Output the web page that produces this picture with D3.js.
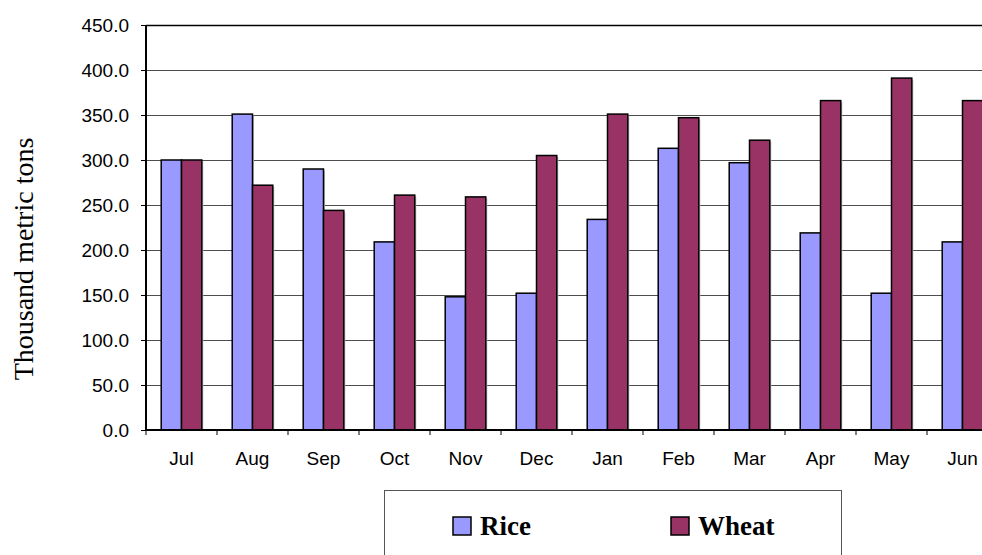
<!DOCTYPE html>
<html lang="en">
<head>
    <meta charset="utf-8">
    <title>Rice and Wheat</title>
    <style type="text/css">
        body { margin: 0; background: #fff; }
        .chart .tick text { font-family: "Liberation Sans", Arial, sans-serif; font-size: 19px; fill: #000; }
        .chart .grid line { stroke: #4d4d4d; stroke-width: 1; }
        .chart .axis path, .chart .axis line { stroke: #000; }
        .chart .bar { stroke: #000; stroke-width: 1.5; }
        .chart .ytitle { font-family: "Liberation Serif", "Times New Roman", serif; font-size: 28px; fill: #000; }
        .chart .legend text { font-family: "Liberation Serif", "Times New Roman", serif; font-size: 27px; font-weight: bold; fill: #000; }
    </style>
</head>
<body>
    <svg class="chart" width="982" height="555"></svg>

    <script src="https://d3js.org/d3.v7.min.js"></script>
    <script>
        // data
        var months = ['Jul', 'Aug', 'Sep', 'Oct', 'Nov', 'Dec', 'Jan', 'Feb', 'Mar', 'Apr', 'May', 'Jun'];
        var rice  = [300, 351, 290, 209, 148, 152, 234, 313, 297, 219, 152, 209];
        var wheat = [300, 272, 244, 261, 259, 305, 351, 347, 322, 366, 391, 366];
        var seriesNames = ['Rice', 'Wheat'];
        var seriesColors = ['#9999ff', '#993366'];
        var yTicks = [0, 50, 100, 150, 200, 250, 300, 350, 400, 450];

        var svg = d3.select('.chart'),
            plot = {left: 146, top: 25, right: 998, bottom: 430};

        var x = d3.scaleBand()
            .domain(months)
            .range([plot.left, plot.right])
            .paddingInner(0)
            .paddingOuter(0);

        // two bars inside each month, 150% gap
        var xs = d3.scaleBand()
            .domain(seriesNames)
            .range([0, x.bandwidth()])
            .paddingInner(0)
            .paddingOuter(0.75);

        var y = d3.scaleLinear()
            .domain([0, 450])
            .range([plot.bottom, plot.top]);

        // gridlines
        svg.append('g')
            .attr('class', 'grid')
            .selectAll('line')
            .data(yTicks.slice(1))
            .enter()
            .append('line')
            .attr('x1', plot.left)
            .attr('x2', plot.right)
            .attr('y1', function(d) { return Math.round(y(d)) + 0.5; })
            .attr('y2', function(d) { return Math.round(y(d)) + 0.5; })
            .style('stroke', function(d) { return d === 450 ? '#000' : null; })
            .style('stroke-width', function(d) { return d === 450 ? 1.5 : null; });

        // bars
        var table = months.map(function(m, i) {
            return {month: m, values: [rice[i], wheat[i]]};
        });

        var groups = svg.append('g')
            .selectAll('g')
            .data(table)
            .enter()
            .append('g')
            .attr('transform', function(d) { return 'translate(' + x(d.month) + ',0)'; });

        function cells(d) {
            return d.values.map(function(v, j) { return {name: seriesNames[j], value: v, j: j}; });
        }

        groups.selectAll('rect.shadow')
            .data(cells)
            .enter()
            .append('rect')
            .attr('class', 'shadow')
            .attr('x', function(d) { return xs(d.name) + 1.5; })
            .attr('y', function(d) { return y(d.value) + 1.5; })
            .attr('width', xs.bandwidth())
            .attr('height', function(d) { return plot.bottom - y(d.value) - 1.5; })
            .attr('fill', '#bbb');

        groups.selectAll('rect.bar')
            .data(cells)
            .enter()
            .append('rect')
            .attr('class', 'bar')
            .attr('x', function(d) { return xs(d.name); })
            .attr('y', function(d) { return y(d.value); })
            .attr('width', xs.bandwidth())
            .attr('height', function(d) { return plot.bottom - y(d.value); })
            .attr('fill', function(d) { return seriesColors[d.j]; });

        // y axis
        var yAxis = svg.append('g')
            .attr('class', 'axis')
            .attr('transform', 'translate(' + plot.left + ',0)')
            .call(d3.axisLeft(y).tickValues(yTicks).tickSize(5).tickPadding(12).tickFormat(d3.format('.1f')));
        yAxis.select('.domain').attr('d', 'M0,' + plot.top + 'V' + plot.bottom).style('stroke-width', 2);

        // x axis, ticks between months
        var xAxis = svg.append('g')
            .attr('class', 'axis')
            .attr('transform', 'translate(0,' + plot.bottom + ')')
            .call(d3.axisBottom(x).tickSize(0).tickPadding(22));
        xAxis.select('.domain').attr('d', 'M' + plot.left + ',0H' + plot.right).style('stroke-width', 2);
        xAxis.selectAll('.sep')
            .data(months)
            .enter()
            .append('line')
            .attr('class', 'sep')
            .attr('x1', function(d) { return x(d); })
            .attr('x2', function(d) { return x(d); })
            .attr('y1', 0)
            .attr('y2', 5);

        // y title
        svg.append('text')
            .attr('class', 'ytitle')
            .attr('transform', 'translate(33,259) rotate(-90)')
            .attr('text-anchor', 'middle')
            .text('Thousand metric tons');

        // legend
        var legend = svg.append('g').attr('class', 'legend');
        legend.append('rect')
            .attr('x', 384.5)
            .attr('y', 490.5)
            .attr('width', 457)
            .attr('height', 80)
            .attr('fill', '#fff')
            .attr('stroke', '#555')
            .attr('stroke-width', 1);

        var items = legend.selectAll('.item')
            .data(seriesNames)
            .enter()
            .append('g')
            .attr('class', 'item')
            .attr('transform', function(d, i) { return 'translate(' + [453, 671][i] + ',517)'; });

        items.append('rect')
            .attr('width', 18)
            .attr('height', 18)
            .attr('fill', function(d, i) { return seriesColors[i]; })
            .attr('stroke', '#000')
            .attr('stroke-width', 1.5);

        items.append('text')
            .attr('x', 27)
            .attr('y', 18)
            .text(function(d) { return d; });
    </script>
</body>
</html>
